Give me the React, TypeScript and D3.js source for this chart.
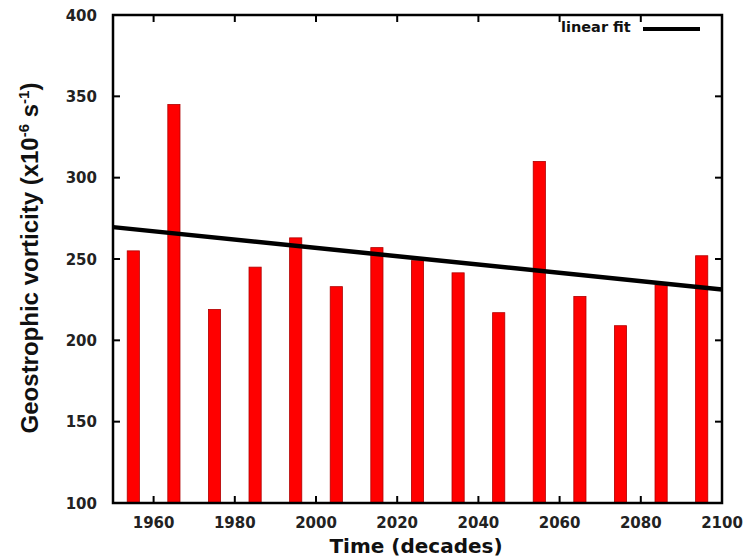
import React from "react";
import * as d3 from "d3";

const decades = [1955, 1965, 1975, 1985, 1995, 2005, 2015, 2025, 2035, 2045, 2055, 2065, 2075, 2085, 2095];
const vorticity = [255, 345, 219, 245, 263, 233, 257, 249, 241.5, 217, 310, 227, 209, 234, 252];
const xTicks = [1960, 1980, 2000, 2020, 2040, 2060, 2080, 2100];
const yTicks = [100, 150, 200, 250, 300, 350, 400];
const xDomain = [1950, 2100];
const yDomain = [100, 400];

const W = 749, H = 557;
const L = 113, R = 722, T = 15, B = 503;

export default function App() {
  const x = d3.scaleLinear().domain(xDomain).range([L, R]);
  const y = d3.scaleLinear().domain(yDomain).range([B, T]);
  const barW = x(1953) - x(1950);

  // least squares fit
  const mx = d3.mean(decades)!;
  const my = d3.mean(vorticity)!;
  const sxy = d3.sum(decades.map((d, i) => (d - mx) * (vorticity[i] - my)));
  const sxx = d3.sum(decades.map((d) => (d - mx) * (d - mx)));
  const slope = sxy / sxx;
  const fit = (t: number) => my + slope * (t - mx);
  const fitPts: [number, number][] = [xDomain[0], xDomain[1]].map((t) => [x(t), y(fit(t))]);
  const line = d3.line();

  const tickFont = "'DejaVu Sans', Verdana, sans-serif";
  return (
    <svg width={W} height={H} style={{ position: "absolute", left: 0, top: 0, background: "#fff" }}>
      {decades.map((d, i) => (
        <rect key={d} x={x(d) - barW / 2} y={y(vorticity[i])} width={barW} height={y(yDomain[0]) - y(vorticity[i])}
          fill="#ff0000" stroke="#b00000" strokeWidth={0.8} />
      ))}
      <path d={line(fitPts) || ""} stroke="#000" strokeWidth={4.5} fill="none" />
      {/* ticks */}
      {xTicks.filter((t) => t < 2100).map((t) => (
        <g key={"xt" + t}>
          <line x1={x(t)} x2={x(t)} y1={B} y2={B - 7} stroke="#000" strokeWidth={2} />
          <line x1={x(t)} x2={x(t)} y1={T} y2={T + 7} stroke="#000" strokeWidth={2} />
        </g>
      ))}
      {yTicks.filter((t) => t > 100 && t < 400).map((t) => (
        <g key={"yt" + t}>
          <line x1={L} x2={L + 7} y1={y(t)} y2={y(t)} stroke="#000" strokeWidth={2} />
          <line x1={R} x2={R - 7} y1={y(t)} y2={y(t)} stroke="#000" strokeWidth={2} />
        </g>
      ))}
      <rect x={L} y={T} width={R - L} height={B - T} fill="none" stroke="#000" strokeWidth={2.5} />
      {/* tick labels */}
      {xTicks.map((t) => (
        <text key={"xl" + t} x={x(t)} y={528} textAnchor="middle" fontFamily={tickFont} fontWeight="bold" fontSize={15} fill="#222">
          {t}
        </text>
      ))}
      {yTicks.map((t) => (
        <text key={"yl" + t} x={97} y={y(t) + 5.5} textAnchor="end" fontFamily={tickFont} fontWeight="bold" fontSize={15} fill="#222">
          {t}
        </text>
      ))}
      {/* axis titles */}
      <text x={416} y={553} textAnchor="middle" fontFamily={tickFont} fontWeight="bold" fontSize={20} fill="#111">
        Time (decades)
      </text>
      <text transform="translate(38,258) rotate(-90)" textAnchor="middle" fontFamily="'Liberation Sans', Arial, sans-serif"
        fontWeight="bold" fontSize={24} fill="#111">
        Geostrophic vorticity (x10<tspan dy={-9} fontSize={15}>-6</tspan><tspan dy={9}> s</tspan>
        <tspan dy={-9} fontSize={15}>-1</tspan><tspan dy={9}>)</tspan>
      </text>
      {/* legend */}
      <text x={561} y={32} fontFamily={tickFont} fontWeight="bold" fontSize={14.5} fill="#111">linear fit</text>
      <line x1={643} x2={700} y1={29} y2={29} stroke="#000" strokeWidth={4} />
    </svg>
  );
}
